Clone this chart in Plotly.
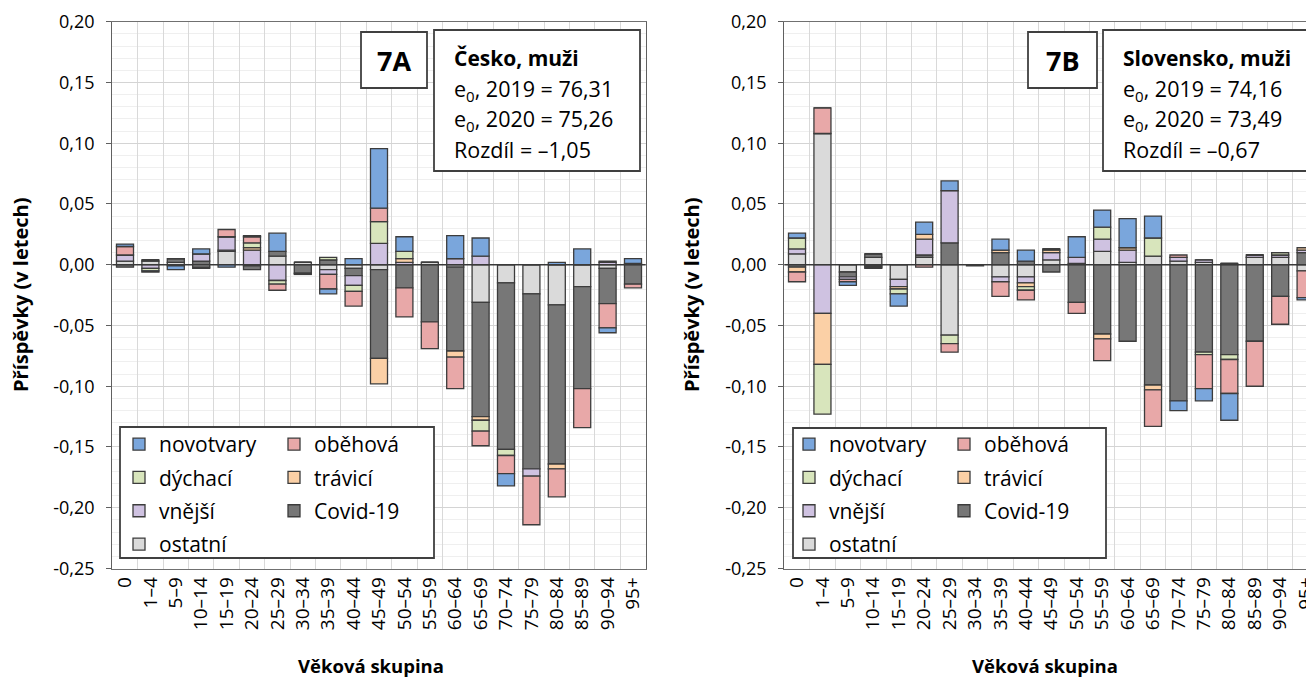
import plotly.graph_objects as go

# ---------------- data ----------------
categories = ["0", "1–4", "5–9", "10–14", "15–19", "20–24", "25–29", "30–34", "35–39",
              "40–44", "45–49", "50–54", "55–59", "60–64", "65–69", "70–74", "75–79",
              "80–84", "85–89", "90–94", "95+"]

series_names = ["novotvary", "oběhová", "dýchací", "trávicí", "vnější", "Covid-19", "ostatní"]

# Česko, muži (7A)
cz_novotvary = [0.002, -0.001, -0.003, 0.004, -0.002, 0.001, 0.015, 0.0, -0.004, 0.005, 0.049,
                0.012, 0.0, 0.019, 0.015, -0.010, 0.0, 0.002, 0.013, -0.004, 0.004]
cz_obehova = [0.007, 0.0, -0.001, -0.001, 0.006, 0.005, -0.005, -0.001, -0.012, -0.012, 0.011,
              -0.024, -0.022, -0.026, -0.012, -0.015, -0.040, -0.023, -0.032, -0.020, -0.003]
cz_dychaci = [0.0, -0.002, 0.0, 0.0, 0.0, 0.004, -0.003, 0.0, 0.002, -0.005, 0.018,
              0.006, 0.0, 0.0, -0.009, -0.005, 0.0, 0.0, 0.0, 0.001, 0.0]
cz_travici = [0.0, 0.0, 0.0, 0.0, 0.0, 0.002, 0.0, 0.0, 0.0, 0.0, -0.021,
              0.003, 0.0, -0.005, -0.003, 0.0, 0.0, -0.004, 0.0, 0.0, 0.0]
cz_vnejsi = [0.005, -0.003, 0.0, 0.006, 0.011, 0.012, -0.013, 0.0, -0.004, -0.008, 0.0175,
             0.002, 0.0, 0.005, 0.007, 0.0, -0.006, 0.0, 0.0, 0.002, 0.0]
cz_covid = [-0.002, 0.001, 0.003, 0.003, 0.001, -0.003, 0.004, -0.007, 0.004, -0.006, -0.073,
            -0.019, -0.047, -0.069, -0.094, -0.137, -0.144, -0.131, -0.084, -0.029, -0.016]
cz_ostatni = [0.003, 0.003, 0.002, -0.002, 0.011, -0.001, 0.007, 0.002, -0.004, -0.003, -0.004,
              0.0, 0.002, -0.002, -0.031, -0.015, -0.024, -0.033, -0.018, -0.003, 0.001]

# Slovensko, muži (7B)
sk_novotvary = [0.004, 0.0, -0.003, 0.0, -0.010, 0.010, 0.008, 0.0, 0.009, 0.009, 0.0,
                0.017, 0.014, 0.024, 0.018, -0.008, -0.010, -0.022, 0.0, 0.0, -0.002]
sk_obehova = [-0.008, 0.021, -0.002, -0.001, 0.0, -0.002, -0.007, 0.0, -0.012, -0.008, 0.0,
              -0.009, -0.018, 0.0, -0.030, 0.002, -0.028, -0.028, -0.037, -0.023, -0.022]
sk_dychaci = [0.009, -0.041, 0.0, -0.001, -0.004, 0.0, -0.007, 0.0, 0.0, -0.003, 0.001,
              0.0, 0.010, 0.0, 0.015, 0.0, -0.002, -0.004, 0.0, 0.002, 0.0]
sk_travici = [-0.004, -0.042, 0.0, -0.001, -0.002, 0.004, 0.0, 0.0, 0.002, -0.003, 0.002,
              0.0, -0.004, 0.002, -0.004, 0.0, 0.0, 0.0, 0.0, 0.0, 0.002]
sk_vnejsi = [0.004, -0.040, -0.002, 0.0, -0.006, 0.013, 0.043, 0.0, -0.004, -0.005, 0.006,
             0.005, 0.010, 0.010, 0.0, 0.003, 0.002, 0.0, 0.002, 0.002, 0.002]
sk_covid = [-0.002, 0.0, -0.004, 0.003, 0.0, 0.002, 0.018, -0.001, 0.010, 0.003, -0.006,
            -0.031, -0.057, -0.063, -0.099, -0.112, -0.072, -0.074, -0.063, -0.026, 0.010]
sk_ostatni = [0.009, 0.108, -0.006, 0.006, -0.012, 0.006, -0.058, 0.0, -0.010, -0.010, 0.004,
              0.001, 0.011, 0.002, 0.007, 0.003, 0.002, 0.001, 0.006, 0.006, -0.005]

y_tick_values = [-0.25, -0.20, -0.15, -0.10, -0.05, 0.0, 0.05, 0.10, 0.15, 0.20]
y_tick_labels = ["-0,25", "-0,20", "-0,15", "-0,10", "-0,05", "0,00", "0,05", "0,10", "0,15", "0,20"]

cz_lines = ["<b>Česko, muži</b>", "e<sub>0</sub>, 2019 = 76,31", "e<sub>0</sub>, 2020 = 75,26", "Rozdíl = –1,05"]
sk_lines = ["<b>Slovensko, muži</b>", "e<sub>0</sub>, 2019 = 74,16", "e<sub>0</sub>, 2020 = 73,49", "Rozdíl = –0,67"]

# ---------------- style ----------------
colors = {
    "novotvary": "#7aa6dc",
    "oběhová": "#e8a8a8",
    "dýchací": "#d8e5bc",
    "trávicí": "#fbd0a6",
    "vnější": "#cfc2e1",
    "Covid-19": "#777777",
    "ostatní": "#dadada",
}
FONT = "Open Sans"
OFF = 8                      # page body margin
W, H = 1314 - OFF, 678 - OFF


def fx(p):
    return (p - OFF) / W


def fy(p):
    return 1 - (p - OFF) / H


cz = {"novotvary": cz_novotvary, "oběhová": cz_obehova, "dýchací": cz_dychaci,
      "trávicí": cz_travici, "vnější": cz_vnejsi, "Covid-19": cz_covid, "ostatní": cz_ostatni}
sk = {"novotvary": sk_novotvary, "oběhová": sk_obehova, "dýchací": sk_dychaci,
      "trávicí": sk_travici, "vnější": sk_vnejsi, "Covid-19": sk_covid, "ostatní": sk_ostatni}

# stacking order: first trace nearest zero
stack_order = ["ostatní", "Covid-19", "vnější", "trávicí", "dýchací", "oběhová", "novotvary"]
col1 = ["novotvary", "dýchací", "vnější", "ostatní"]
col2 = ["oběhová", "trávicí", "Covid-19"]

fig = go.Figure()
for panel, data, xa, ya, lg1, lg2 in [("A", cz, "x", "y", "legend", "legend2"),
                                      ("B", sk, "x2", "y2", "legend3", "legend4")]:
    for name in stack_order:
        if name in col1:
            lg, rank = lg1, col1.index(name) + 1
        else:
            lg, rank = lg2, col2.index(name) + 1
        fig.add_trace(go.Bar(
            x=categories, y=data[name], name=name,
            xaxis=xa, yaxis=ya,
            marker=dict(color=colors[name], line=dict(color="#3c3c3c", width=1.3)),
            legend=lg, legendrank=rank, legendgroup=panel + name,
            showlegend=True,
        ))

xtick_font = dict(family=FONT, size=19, color="#000000")
ytick_font = dict(family=FONT, size=18, color="#000000")

xcommon = dict(type="category", categoryorder="array", categoryarray=categories,
               tickangle=-90, tickson="boundaries", showgrid=True, gridcolor="#d9d9d9",
               gridwidth=1, ticks="", showline=True, linecolor="#707070", linewidth=1.3,
               mirror=True, tickfont=xtick_font, automargin=False, zeroline=False)
ycommon = dict(range=[-0.25, 0.20], tickmode="array", tickvals=y_tick_values,
               ticktext=y_tick_labels, showgrid=True, gridcolor="#d4d4d4", gridwidth=1,
               zeroline=False, showline=True, linecolor="#606060", linewidth=1.3,
               mirror=True, ticks="outside", ticklen=5, tickcolor="#606060",
               ticklabelstandoff=8, tickfont=ytick_font, automargin=False,
               minor=dict(tickmode="linear", tick0=0, dtick=0.01, showgrid=True,
                          gridcolor="#efefef", gridwidth=1, ticks=""))

ydom = [fy(568.5), fy(21.7)]
fig.update_layout(
    xaxis=dict(xcommon, domain=[fx(112.3), fx(645.7)], range=[-0.5, 20.5], anchor="y"),
    yaxis=dict(ycommon, domain=ydom, anchor="x"),
    xaxis2=dict(xcommon, domain=[fx(784.3), 1.0], range=[-0.5, 20.33], anchor="y2"),
    yaxis2=dict(ycommon, domain=ydom, anchor="x2"),
)

fig.update_layout(
    template="none",
    width=W, height=H, margin=dict(l=0, r=0, t=0, b=0, pad=0, autoexpand=False),
    paper_bgcolor="white", plot_bgcolor="white",
    barmode="relative", bargap=0.33,
    font=dict(family=FONT, color="#000000"),
)

# legends (two columns per panel)
leg_common = dict(orientation="v", xanchor="left", yanchor="top", bgcolor="rgba(0,0,0,0)",
                  borderwidth=0, font=dict(family=FONT, size=21, color="#000000"),
                  tracegroupgap=3, itemclick=False, traceorder="grouped")
fig.update_layout(
    legend=dict(leg_common, x=fx(119), y=fy(424)),
    legend2=dict(leg_common, x=fx(274), y=fy(424)),
    legend3=dict(leg_common, x=fx(789), y=fy(424)),
    legend4=dict(leg_common, x=fx(944), y=fy(424)),
)

shapes = []
annotations = []
# zero lines drawn above the bars
for xr, yr in [("x domain", "y"), ("x2 domain", "y2")]:
    shapes.append(dict(type="line", xref=xr, yref=yr, x0=0, x1=1, y0=0, y1=0,
                       line=dict(color="#3a3a3a", width=1.6), layer="above"))

# boxes: (legend, label, info)
boxes = [
    (120, 427, 434, 558),  # legend A
    (793, 428, 1106, 558),  # legend B
    (361, 32, 427, 88),  # 7A
    (1028, 32, 1097, 88),  # 7B
    (434, 30, 640, 171),  # info A
    (1103, 30, 1309, 171),  # info B
]
for (x0, y0, x1, y1) in boxes:
    shapes.append(dict(type="rect", xref="paper", yref="paper", x0=fx(x0), x1=fx(x1),
                       y0=fy(y1), y1=fy(y0), fillcolor="white",
                       line=dict(color="#404040", width=1.8), layer="above"))

for label, cx in [("7A", 394), ("7B", 1062.5)]:
    annotations.append(dict(text="<b>%s</b>" % label, x=fx(cx), y=fy(60), xref="paper",
                            yref="paper", showarrow=False, xanchor="center", yanchor="middle",
                            font=dict(family=FONT, size=27, color="#000000")))

line_y = [58, 90, 120, 150]
for lines, x0 in [(cz_lines, 452), (sk_lines, 1121)]:
    for i, (t, yy) in enumerate(zip(lines, line_y)):
        annotations.append(dict(text=t, x=fx(x0), y=fy(yy), xref="paper", yref="paper",
                                showarrow=False, xanchor="left", yanchor="middle",
                                font=dict(family=FONT, size=21 if i == 0 else 21.5,
                                          color="#000000")))

# axis titles
for cx in [21, 692]:
    annotations.append(dict(text="<b>Příspěvky (v letech)</b>", x=fx(cx), y=fy(295),
                            xref="paper", yref="paper", showarrow=False, textangle=-90,
                            xanchor="center", yanchor="middle",
                            font=dict(family=FONT, size=20, color="#000000")))
for cx in [371, 1045]:
    annotations.append(dict(text="<b>Věková skupina</b>", x=fx(cx), y=fy(665),
                            xref="paper", yref="paper", showarrow=False,
                            xanchor="center", yanchor="middle",
                            font=dict(family=FONT, size=18.5, color="#000000")))

fig.update_layout(shapes=shapes, annotations=annotations)

fig.write_html("out.html")
